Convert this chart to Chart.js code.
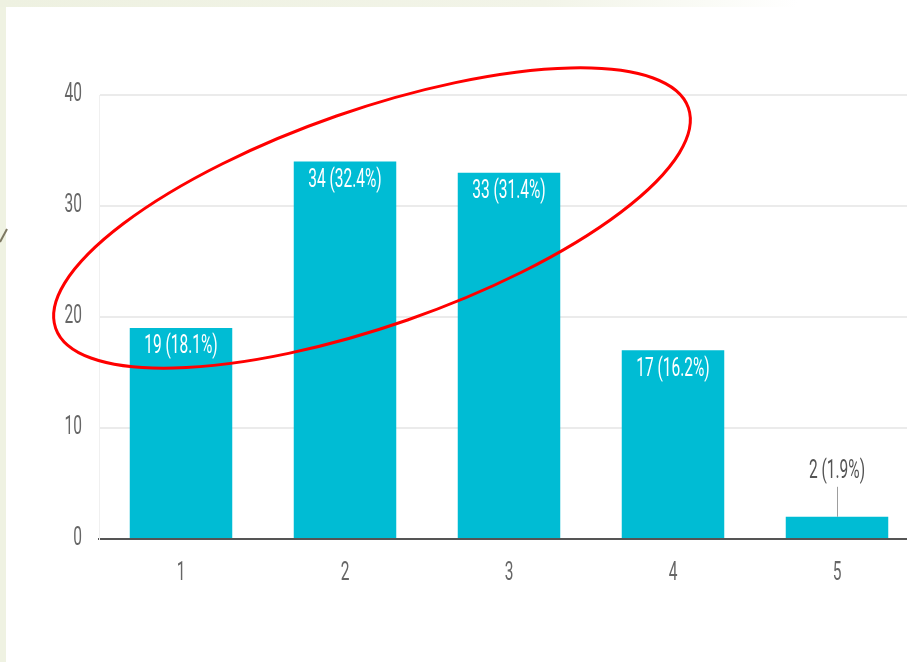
<!DOCTYPE html>
<html>
<head>
<meta charset="utf-8">
<script src="https://cdn.jsdelivr.net/npm/chart.js@4/dist/chart.umd.min.js"></script>
<style>
  html, body { margin: 0; padding: 0; width: 907px; height: 662px; overflow: hidden; background: #ffffff; }
  #left { position: absolute; left: 0; top: 0; width: 6px; height: 662px; background: #eff2e2; }
  #top { position: absolute; left: 0; top: 0; width: 907px; height: 7px;
         background: linear-gradient(to right, #eef1e1 0%, #f2f4e8 60%, #fafbf6 78%, #ffffff 88%); }
  #deco { position: absolute; left: 0; top: 0; }
  #c { position: absolute; left: 0; top: 0; }
</style>
</head>
<body>
<div id="left"></div>
<div id="top"></div>
<svg id="deco" width="20" height="662"><line x1="0" y1="242" x2="7" y2="229" stroke="#7d7862" stroke-width="2"/></svg>
<canvas id="c" width="919" height="662"></canvas>
<script>
const categories = ['1', '2', '3', '4', '5'];
const counts = [19, 34, 33, 17, 2];
const percents = ['18.1', '32.4', '31.4', '16.2', '1.9'];
const yTicks = [0, 10, 20, 30, 40];

const SX = 0.62;
const FONT = '25px Roboto, "Liberation Sans", sans-serif';

function drawText(ctx, txt, cx, cy, align, color) {
  ctx.save();
  ctx.translate(cx, cy);
  ctx.scale(SX, 1);
  ctx.font = FONT;
  ctx.fillStyle = color;
  ctx.textAlign = align;
  ctx.textBaseline = 'middle';
  ctx.fillText(txt, 0, 0);
  ctx.restore();
}

const textPlugin = {
  id: 'texts',
  afterDraw(chart) {
    const ctx = chart.ctx;
    const xs = chart.scales.x, ys = chart.scales.y;
    yTicks.forEach(v => drawText(ctx, String(v), 82, ys.getPixelForValue(v), 'right', '#666666'));
    categories.forEach((c, i) => drawText(ctx, c, xs.getPixelForValue(i), 574, 'center', '#666666'));
    const meta = chart.getDatasetMeta(0);
    meta.data.forEach((bar, i) => {
      const label = counts[i] + ' (' + percents[i] + '%)';
      if (bar.base - bar.y > 40) {
        drawText(ctx, label, bar.x, bar.y + 19, 'center', '#ffffff');
      } else {
        drawText(ctx, label, bar.x, bar.y - 45, 'center', '#555555');
        ctx.save();
        ctx.strokeStyle = '#9e9e9e';
        ctx.lineWidth = 1;
        ctx.beginPath();
        ctx.moveTo(Math.round(bar.x) + 0.5, bar.y - 30);
        ctx.lineTo(Math.round(bar.x) + 0.5, bar.y);
        ctx.stroke();
        ctx.restore();
      }
    });
    // red annotation ellipse
    ctx.save();
    ctx.strokeStyle = '#ff0000';
    ctx.lineWidth = 3;
    ctx.beginPath();
    ctx.ellipse(372, 218, 335, 108, -19.2 * Math.PI / 180, 0, Math.PI * 2);
    ctx.stroke();
    ctx.restore();
  }
};

new Chart(document.getElementById('c'), {
  type: 'bar',
  data: {
    labels: categories,
    datasets: [{
      data: counts,
      backgroundColor: '#00bcd4',
      borderWidth: 0,
      barPercentage: 0.625,
      categoryPercentage: 1.0
    }]
  },
  options: {
    responsive: false,
    animation: false,
    devicePixelRatio: 1,
    layout: { padding: { left: 0, right: 0, top: 95, bottom: 0 } },
    plugins: { legend: { display: false }, tooltip: { enabled: false } },
    scales: {
      x: {
        grid: { display: false },
        ticks: { display: false },
        border: { display: true, color: '#555555', width: 2 },
        afterFit(scale) { scale.height = 123; }
      },
      y: {
        min: 0, max: 40,
        ticks: { display: false, stepSize: 10 },
        grid: { color: '#ebebeb', lineWidth: 2, drawTicks: false },
        border: { display: true, color: '#f0f0f0', width: 1 },
        afterFit(scale) { scale.width = 99; }
      }
    }
  },
  plugins: [textPlugin]
});
</script>
</body>
</html>
